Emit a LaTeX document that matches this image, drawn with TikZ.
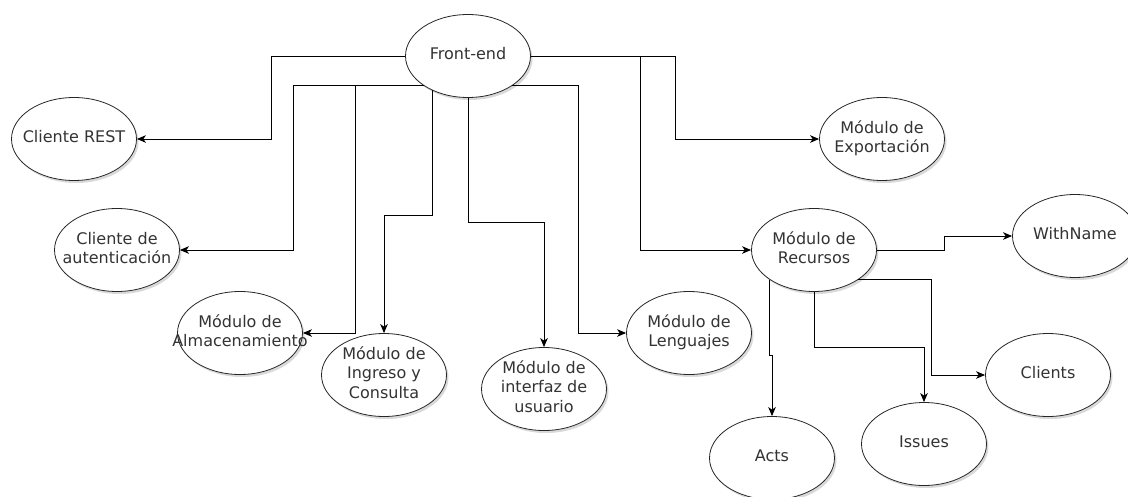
\documentclass[tikz,border=0pt]{standalone}
\usepackage{fontspec}
\setmainfont{DejaVu Sans}
\usetikzlibrary{arrows.meta,shapes.geometric,shadows}
\newcommand{\etiq}[1]{\makebox[0pt]{\begin{tabular}{@{}c@{}}#1\end{tabular}}}

\begin{document}
\begin{tikzpicture}[x=1pt,y=-1pt,
  modulo/.style={ellipse,draw=black!85,line width=0.8pt,fill=white,
    minimum width=125pt,minimum height=83pt,inner sep=0pt,text=black!80,
    font=\fontsize{16}{19.5}\selectfont,
    drop shadow={shadow xshift=2pt,shadow yshift=-2.5pt,opacity=0.3}},
  flecha/.style={line width=0.9pt,-{Stealth[length=9pt,width=7.5pt,inset=2.5pt]}}]
\useasboundingbox (0,0) rectangle (1128,496);
\node[modulo] (front) at (468,56) {\etiq{Front-end}};
\node[modulo] (rest) at (74,139) {\etiq{Cliente REST}};
\node[modulo] (auth) at (117,250) {\etiq{Cliente de\\autenticación}};
\node[modulo] (alm) at (240,333) {\etiq{Módulo de\\Almacenamiento}};
\node[modulo] (ing) at (384,375) {\etiq{Módulo de\\Ingreso y\\Consulta}};
\node[modulo] (ui) at (544,389) {\etiq{Módulo de\\interfaz de\\usuario}};
\node[modulo] (len) at (689,333) {\etiq{Módulo de\\Lenguajes}};
\node[modulo] (exp) at (882,139) {\etiq{Módulo de\\Exportación}};
\node[modulo] (rec) at (814,250) {\etiq{Módulo de\\Recursos}};
\node[modulo] (with) at (1075,236) {\etiq{WithName}};
\node[modulo] (acts) at (772,458) {\etiq{Acts}};
\node[modulo] (iss) at (924,444) {\etiq{Issues}};
\node[modulo] (cli) at (1048,375) {\etiq{Clients}};
\coordinate (xrest) at (271,0);
\coordinate (xauth) at (293,0);
\coordinate (xalm) at (355,0);
\coordinate (ying) at (0,215);
\coordinate (yui) at (0,222);
\coordinate (xlen) at (578,0);
\coordinate (xrec) at (640,0);
\coordinate (xexp) at (675,0);
\coordinate (xwith) at (944,0);
\coordinate (yiss) at (0,347);
\coordinate (yacts) at (0,355);
\coordinate (xcli) at (931,0);
\draw[flecha] (front.west) -- (front.west -| xrest) |- (rest.east);
\draw[flecha] (front.south west) -- (front.south west -| xauth) |- (auth.east);
\draw[flecha] (front.south west) -- (front.south west -| xalm) |- (alm.east);
\draw[flecha] (front.224) -- (front.224 |- ying) -| (ing.north);
\draw[flecha] (front.south) -- (front.south |- yui) -| (ui.north);
\draw[flecha] (front.south east) -- (front.south east -| xlen) |- (len.west);
\draw[flecha] (front.east) -- (front.east -| xexp) |- (exp.west);
\draw[flecha] (front.east) -- (front.east -| xrec) |- (rec.west);
\draw[flecha] (rec.east) -- (rec.east -| xwith) |- (with.west);
\draw[flecha] (rec.south west) -- (rec.south west |- yacts) -| (acts.north);
\draw[flecha] (rec.south) -- (rec.south |- yiss) -| (iss.north);
\draw[flecha] (rec.south east) -- (rec.south east -| xcli) |- (cli.west);
\end{tikzpicture}
\end{document}
